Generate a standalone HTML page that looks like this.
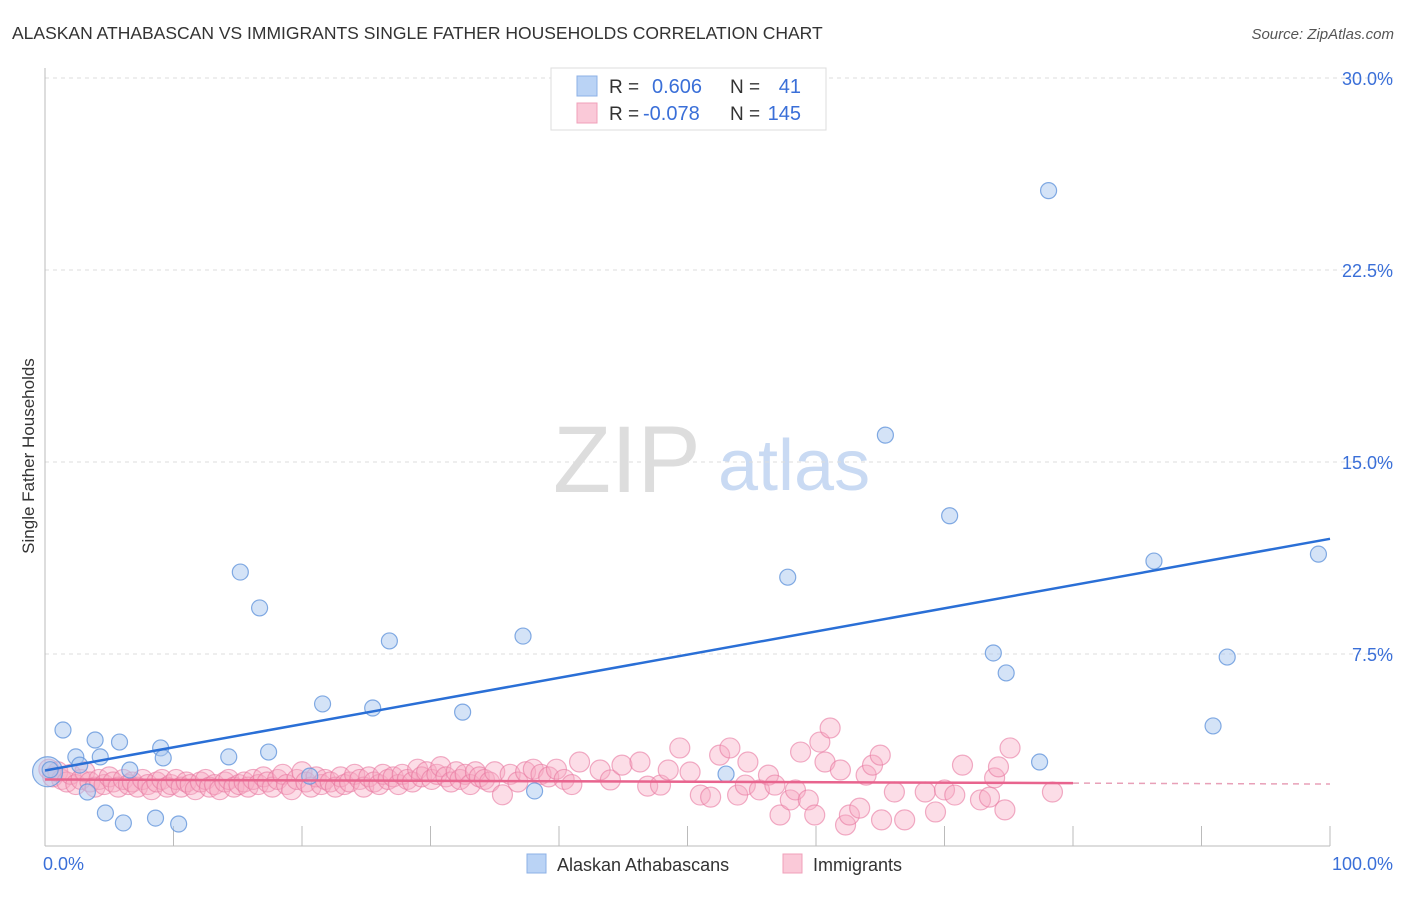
<!DOCTYPE html>
<html><head><meta charset="utf-8"><style>
body{margin:0;background:#fff;font-family:"Liberation Sans",sans-serif;}
svg text{font-family:"Liberation Sans",sans-serif;}
</style></head><body>
<svg id="chart" width="1406" height="892" xmlns="http://www.w3.org/2000/svg">
<text x="12" y="39" font-size="17.5" fill="#333">ALASKAN ATHABASCAN VS IMMIGRANTS SINGLE FATHER HOUSEHOLDS CORRELATION CHART</text>
<text x="1394" y="39" font-size="15" fill="#555" text-anchor="end" font-style="italic">Source: ZipAtlas.com</text>
<g>
<text x="553" y="492" font-size="95" fill="#ddd" font-family="Liberation Serif,serif">ZIP</text>
<text x="718" y="490" font-size="72" fill="#c9daf3">atlas</text>
</g>
<g id="grid"></g>
<g id="axes"></g>
<g id="pink"></g>
<g id="blue"></g>
<g id="trends"></g>
<text transform="translate(34,456) rotate(-90)" font-size="17" fill="#333" text-anchor="middle">Single Father Households</text>
<g>
<rect x="551" y="68" width="275" height="62" fill="#fff" stroke="#ddd"/>
<rect x="577" y="76" width="20" height="20" fill="#bad3f5" stroke="#8cb0e6"/>
<rect x="577" y="103" width="20" height="20" fill="#fac9d8" stroke="#f0a0ba"/>
<text x="609" y="93" font-size="19" fill="#333">R = </text><text x="652" y="93" font-size="20" fill="#3a6fd8">0.606</text>
<text x="730" y="93" font-size="19" fill="#333">N = </text><text x="801" y="93" font-size="20" fill="#3a6fd8" text-anchor="end">41</text>
<text x="609" y="120" font-size="19" fill="#333">R = </text><text x="643" y="120" font-size="20" fill="#3a6fd8">-0.078</text>
<text x="730" y="120" font-size="19" fill="#333">N = </text><text x="801" y="120" font-size="20" fill="#3a6fd8" text-anchor="end">145</text>
</g>
<g>
<rect x="527" y="854" width="19" height="19" fill="#bad3f5" stroke="#8cb0e6"/>
<text x="557" y="871" font-size="18" fill="#333">Alaskan Athabascans</text>
<rect x="783" y="854" width="19" height="19" fill="#fac9d8" stroke="#f0a0ba"/>
<text x="813" y="871" font-size="18" fill="#333">Immigrants</text>
</g>
</svg>
<script>
const yTicks=[7.5,15.0,22.5,30.0];
const yTickLabels=["7.5%","15.0%","22.5%","30.0%"];
const xTickLabels=["0.0%","100.0%"];
const blueX=[0.2,0.4,1.4,2.4,2.7,3.3,3.9,4.3,4.7,5.8,6.1,6.6,8.6,9.0,9.2,10.4,14.3,15.2,16.7,17.4,20.6,21.6,25.5,26.8,32.5,37.2,38.1,53.0,57.8,65.4,70.4,73.8,74.8,77.4,78.1,86.3,90.9,92.0,99.1];
const blueY=[2.9,2.98,4.53,3.48,3.16,2.11,4.14,3.48,1.29,4.06,0.90,2.97,1.09,3.83,3.44,0.86,3.48,10.7,9.30,3.67,2.73,5.55,5.39,8.01,5.23,8.2,2.15,2.81,10.5,16.05,12.9,7.54,6.76,3.28,25.6,11.13,4.69,7.38,11.4];
const blueR=[15,8,8,8,8,8,8,8,8,8,8,8,8,8,8,8,8,8,8,8,8,8,8,8,8,8,8,8,8,8,8,8,8,8,8,8,8,8,8];
const pinkX=[0.3,0.6,1.0,1.3,1.7,2.0,2.4,2.8,3.1,3.5,3.9,4.2,4.6,5.0,5.3,5.7,6.1,6.5,6.8,7.2,7.6,8.0,8.3,8.7,9.1,9.5,9.8,10.2,10.6,11.0,11.3,11.7,12.1,12.5,12.8,13.2,13.6,14.0,14.3,14.7,15.1,15.5,15.8,16.2,16.6,17.0,17.3,17.7,18.1,18.5,18.8,19.2,19.6,20.0,20.3,20.7,21.1,21.5,21.8,22.2,22.6,23.0,23.3,23.7,24.1,24.5,24.8,25.2,25.6,26.0,26.3,26.7,27.1,27.5,27.8,28.2,28.6,29.0,29.3,29.7,30.1,30.5,30.8,31.2,31.6,32.0,32.3,32.7,33.1,33.5,33.8,34.2,34.6,35.0,35.6,36.2,36.8,37.4,38.0,38.6,39.2,39.8,40.4,41.0,41.6,43.2,44.0,44.9,46.3,46.9,47.9,48.5,49.4,50.2,51.0,51.8,52.5,53.3,53.9,54.5,54.7,55.6,56.3,56.8,57.2,58.0,58.4,58.8,59.4,59.9,60.3,60.7,61.1,61.9,62.3,62.6,63.4,63.9,64.4,65.0,65.1,66.1,66.9,68.5,69.3,70.0,70.8,71.4,72.8,73.5,73.9,74.2,74.7,75.1,78.4];
const pinkY=[3.0,2.7,2.9,2.6,2.5,2.8,2.4,2.6,2.9,2.5,2.3,2.6,2.4,2.7,2.5,2.3,2.6,2.4,2.5,2.3,2.6,2.4,2.2,2.5,2.6,2.3,2.4,2.6,2.3,2.5,2.4,2.2,2.5,2.6,2.3,2.4,2.2,2.5,2.6,2.3,2.4,2.5,2.3,2.6,2.4,2.7,2.5,2.3,2.6,2.8,2.4,2.2,2.6,2.9,2.5,2.3,2.7,2.4,2.6,2.5,2.3,2.7,2.4,2.5,2.8,2.6,2.3,2.7,2.5,2.4,2.8,2.6,2.7,2.4,2.8,2.6,2.5,3.0,2.7,2.9,2.6,2.8,3.1,2.7,2.5,2.9,2.6,2.8,2.4,2.9,2.7,2.6,2.5,2.9,2.0,2.8,2.5,2.9,3.0,2.8,2.7,3.0,2.6,2.4,3.28,2.97,2.58,3.16,3.28,2.34,2.38,2.97,3.83,2.89,1.99,1.91,3.55,3.83,1.99,2.38,3.28,2.19,2.77,2.38,1.21,1.80,2.19,3.67,1.80,1.21,4.06,3.28,4.61,2.97,0.82,1.21,1.48,2.77,3.16,3.55,1.02,2.11,1.02,2.11,1.33,2.19,1.99,3.16,1.80,1.91,2.66,3.09,1.41,3.83,2.11];
const blueTrend=[2.95,12.0];
const pinkTrend=[2.6,2.42];
const NS="http://www.w3.org/2000/svg";
const X0=45,X1=1330,Y0=846,PY=25.6;
const sx=v=>X0+(X1-X0)*v/100, sy=v=>Y0-v*PY;
function mk(tag,parent,attrs){const e=document.createElementNS(NS,tag);for(const k in attrs)e.setAttribute(k,attrs[k]);parent.appendChild(e);return e;}
const grid=document.getElementById('grid'),axes=document.getElementById('axes');
yTicks.forEach((t,i)=>{
  const l=mk('line',grid,{x1:X0,x2:1393,y1:sy(t),y2:sy(t),stroke:'#ddd','stroke-dasharray':'4,4'});
  
  
  const tx=mk('text',axes,{x:1393,y:sy(t)+7,'font-size':18,fill:'#3a6fd8','text-anchor':'end'});
  tx.textContent=yTickLabels[i];
  
  
});
const ax=mk('line',axes,{x1:X0,x2:X1,y1:Y0,y2:Y0,stroke:'#bbb'});


const ay=mk('line',axes,{x1:X0,x2:X0,y1:68,y2:Y0,stroke:'#bbb'});


for(let i=1;i<=10;i++){const t=mk('line',axes,{x1:sx(i*10),x2:sx(i*10),y1:826,y2:Y0,stroke:'#bbb'});
  
  }
[[0,'start',X0-2],[1,'end',1393]].forEach(([i,a,x])=>{const t=mk('text',axes,{x:x,y:870,'font-size':18,fill:'#3a6fd8','text-anchor':a});t.textContent=xTickLabels[i];
  
  });
const pg=document.getElementById('pink');
pinkX.forEach((v,i)=>{const c=mk('circle',pg,{cx:sx(v),cy:sy(pinkY[i]),r:10,fill:'rgba(247,170,196,0.4)',stroke:'rgba(232,120,160,0.6)','stroke-width':1.2});
  
  });
const bg=document.getElementById('blue');
blueX.forEach((v,i)=>{const c=mk('circle',bg,{cx:sx(v),cy:sy(blueY[i]),r:blueR[i],fill:'rgba(170,200,240,0.5)',stroke:'rgba(100,150,220,0.8)','stroke-width':1.2});
  
  });
const tg=document.getElementById('trends');
const bt=mk('line',tg,{x1:sx(0),y1:sy(blueTrend[0]),x2:sx(100),y2:sy(blueTrend[1]),stroke:'#2a6fd6','stroke-width':2.5});


const pm=pinkTrend[0]+(pinkTrend[1]-pinkTrend[0])*0.8;
const pt=mk('line',tg,{x1:sx(0),y1:sy(pinkTrend[0]),x2:sx(80),y2:sy(pm),stroke:'#e8648e','stroke-width':2.5});


const pd=mk('line',tg,{x1:sx(80),y1:sy(pm),x2:sx(100),y2:sy(pinkTrend[1]),stroke:'#e8a0b8','stroke-width':1.5,'stroke-dasharray':'6,5'});


</script>
</body></html>
